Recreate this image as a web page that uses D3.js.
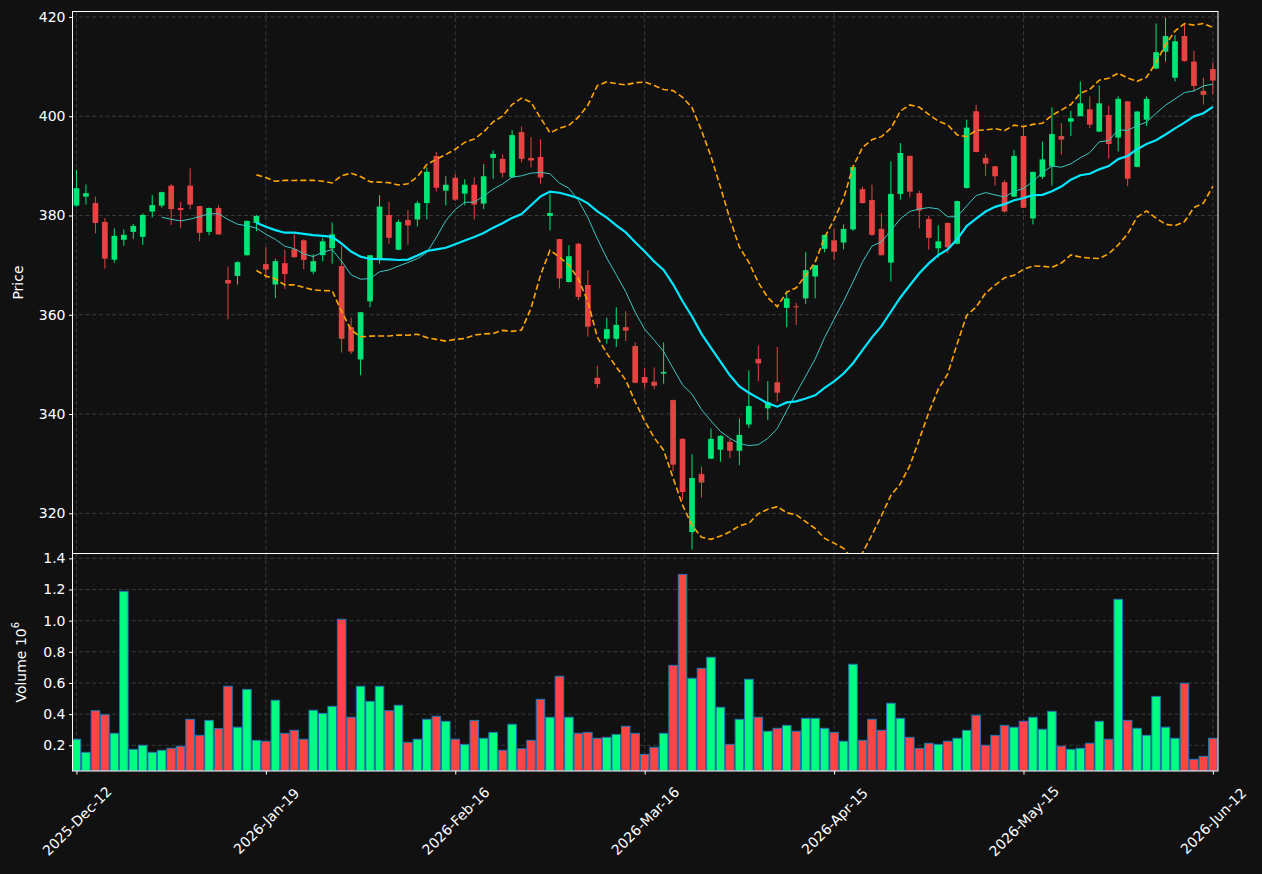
<!DOCTYPE html>
<html>
<head>
<meta charset="utf-8">
<script src="https://cdn.jsdelivr.net/npm/d3@7"></script>
<style>
  html, body { margin: 0; padding: 0; background: #111111; }
  svg { display: block; }
  text { font-family: "DejaVu Sans", sans-serif; }
</style>
</head>
<body>
<svg id="chart" width="1262" height="874"></svg>
<script>
// ---------------- data ----------------
const opens = [382.0,383.8,382.5,378.7,371.1,375.1,376.7,375.7,380.8,382.0,
  386.0,381.5,386.0,381.9,376.7,381.5,367.0,367.8,372.0,378.5,
  370.2,366.1,370.4,373.2,375.0,368.7,372.0,373.4,369.8,357.5,
  351.0,362.7,371.1,380.1,373.1,379.1,379.2,382.5,392.0,385.0,
  387.6,384.4,386.2,382.4,391.6,391.4,387.7,396.8,391.6,391.8,
  379.9,375.25,366.6,374.3,366.0,347.3,355.15,355.15,357.5,353.7,
  347.45,346.5,348.15,342.8,335.0,316.2,327.9,331.0,332.8,334.4,
  332.6,337.9,351.1,341.15,346.4,361.4,361.7,363.3,367.7,373.3,
  375.0,374.55,377.2,385.3,383.1,377.3,370.5,384.35,392.0,384.5,
  379.3,373.4,378.5,374.3,385.55,401.0,391.6,389.9,386.7,383.8,
  396.0,379.4,387.8,389.9,396.0,398.9,400.0,401.4,396.9,400.25,
  395.7,403.0,389.8,399.3,409.6,413.0,407.75,416.15,411.0,405.1,
  409.5];
const highs = [389.2,386.25,383.8,379.5,377.4,377.2,378.3,380.4,384.1,384.8,
  386.3,382.75,389.5,381.9,381.6,382.05,369.7,370.8,379.0,380.1,
  373.6,371.3,373.1,376.2,375.2,372.2,375.5,378.6,373.8,359.4,
  360.5,372.0,384.1,382.75,379.2,381.1,382.96,389.7,392.8,387.9,
  388.35,387.3,387.7,390.4,393.1,392.3,397.2,397.9,395.8,395.35,
  384.4,375.3,374.0,374.5,369.0,349.7,359.4,361.5,360.7,354.45,
  349.3,349.4,354.45,342.9,335.1,331.9,329.45,337.1,335.7,335.1,
  339.1,348.8,353.8,346.6,353.5,364.7,362.4,372.6,370.0,376.1,
  377.4,378.2,389.8,385.8,386.2,380.4,390.9,394.6,392.1,385.0,
  380.0,378.0,378.6,383.0,399.3,402.3,392.4,389.95,387.1,393.2,
  397.9,388.8,394.9,401.8,398.6,401.1,407.0,404.0,406.2,402.1,
  404.0,403.0,401.0,404.0,418.7,419.9,416.35,418.6,413.2,407.75,
  410.9];
const lows = [381.8,382.2,376.4,369.3,370.5,373.9,375.3,374.1,379.6,381.6,
  378.1,377.4,381.3,374.8,376.0,376.1,359.1,366.1,371.9,376.8,
  367.3,363.4,365.2,371.5,369.2,368.2,370.8,370.3,352.4,352.1,
  347.8,361.5,370.3,374.3,373.0,374.1,377.8,379.2,384.85,382.05,
  382.9,382.05,379.2,381.3,387.4,387.65,387.6,390.7,389.7,386.4,
  377.0,365.3,366.5,362.9,355.6,345.2,354.2,353.5,354.7,346.2,
  345.2,345.0,346.1,328.5,322.7,312.7,323.2,330.9,330.4,331.1,
  329.7,337.2,346.6,338.8,342.5,357.5,357.9,362.2,363.3,372.6,
  371.0,373.2,376.9,382.4,375.9,371.95,366.7,383.2,383.65,377.4,
  373.1,371.5,372.4,374.2,385.4,392.7,387.9,386.0,380.6,383.7,
  381.5,378.2,387.4,386.0,392.3,396.05,400.0,397.6,396.8,391.5,
  392.9,385.9,389.7,398.0,409.5,411.0,407.0,411.0,404.95,402.35,
  404.4];
const closes = [385.5,384.5,378.5,371.3,375.9,376.1,377.9,380.1,382.1,384.7,
  381.3,381.1,382.2,376.5,381.5,376.2,366.3,370.6,378.9,379.9,
  369.1,370.8,368.2,371.6,371.05,370.8,374.8,376.2,355.15,352.6,
  360.5,372.0,381.8,375.5,378.7,378.0,382.5,388.8,385.6,386.2,
  383.2,386.2,382.2,387.9,392.4,388.6,396.2,391.4,391.1,387.65,
  380.5,367.3,371.8,363.6,357.6,346.05,357.1,357.96,356.8,346.3,
  346.3,345.7,348.5,329.8,324.3,327.1,326.2,335.0,335.6,332.6,
  335.8,341.6,350.2,342.4,344.3,363.3,361.5,369.0,370.0,376.1,
  372.7,377.3,389.75,382.5,376.1,372.0,384.35,392.6,384.8,381.0,
  375.5,374.8,373.6,382.9,397.7,392.8,390.45,387.9,380.8,392.0,
  381.55,388.8,391.3,396.4,395.3,399.6,402.6,398.3,402.6,394.4,
  403.5,387.4,400.95,403.5,412.9,416.15,415.1,411.1,406.1,404.3,
  407.2];
// volume in units of 10^6
const volumes = [0.239,0.155,0.422,0.396,0.277,1.188,0.174,0.200,0.155,0.168,
  0.181,0.194,0.367,0.264,0.360,0.307,0.579,0.316,0.559,0.232,
  0.226,0.489,0.277,0.296,0.239,0.425,0.405,0.450,1.009,0.380,
  0.579,0.482,0.579,0.422,0.457,0.219,0.239,0.367,0.386,0.354,
  0.239,0.206,0.360,0.245,0.283,0.168,0.335,0.178,0.232,0.495,
  0.380,0.643,0.380,0.277,0.283,0.245,0.251,0.270,0.322,0.277,
  0.142,0.187,0.277,0.713,1.297,0.630,0.694,0.765,0.444,0.206,
  0.367,0.624,0.380,0.290,0.309,0.328,0.290,0.373,0.373,0.309,
  0.283,0.226,0.720,0.232,0.367,0.296,0.470,0.373,0.251,0.181,
  0.213,0.206,0.226,0.245,0.296,0.393,0.200,0.264,0.328,0.316,
  0.354,0.380,0.303,0.418,0.194,0.174,0.181,0.213,0.354,0.239,
  1.137,0.360,0.309,0.264,0.514,0.316,0.245,0.598,0.110,0.129,
  0.245];
const tickIndex  = [0, 20, 40, 60, 80, 100, 120];
const tickLabels = ["2025-Dec-12","2026-Jan-19","2026-Feb-16","2026-Mar-16","2026-Apr-15","2026-May-15","2026-Jun-12"];
const priceTicks  = [320, 340, 360, 380, 400, 420];
const volumeTicks = [0.2, 0.4, 0.6, 0.8, 1.0, 1.2, 1.4];
const mavShort = 10, mavLong = 20, bandStd = 2;

// ---------------- derived series (rolling statistics of closes) ----------------
function rolling(n, fn) {
  return closes.map((_, i) => i < n - 1 ? null : fn(closes.slice(i - n + 1, i + 1)));
}
const ma10 = rolling(mavShort, w => d3.mean(w));
const ma20 = rolling(mavLong, w => d3.mean(w));
const sd20 = rolling(mavLong, w => { const m = d3.mean(w); return Math.sqrt(d3.mean(w, v => (v - m) * (v - m))); });
const upper = ma20.map((m, i) => m == null ? null : m + bandStd * sd20[i]);
const lower = ma20.map((m, i) => m == null ? null : m - bandStd * sd20[i]);

// ---------------- layout ----------------
const L = 72.5, R = 1218;
const pTop = 11.5, pBot = 553.5, vTop = 553.5, vBot = 771;
const svg = d3.select("#chart");
const bg = "#111111", gridC = "#3a3a3a", fg = "#ffffff";
const upC = "#00e676", downC = "#e84343", upV = "#00ff80", downV = "#ff4444";

svg.append("rect").attr("width", 1262).attr("height", 874).attr("fill", bg);

const n = closes.length;
const x = d3.scaleLinear().domain([-0.42, n - 1 + 0.54]).range([L, R]);
const yP = d3.scaleLinear().domain([311.9, 421.1]).range([pBot, pTop]);
const yV = d3.scaleLinear().domain([0.035, 1.431]).range([vBot, vTop]);
const step = x(1) - x(0);

// clip paths
const defs = svg.append("defs");
defs.append("clipPath").attr("id", "clipP").append("rect").attr("x", L).attr("y", pTop).attr("width", R - L).attr("height", pBot - pTop);
defs.append("clipPath").attr("id", "clipV").append("rect").attr("x", L).attr("y", vTop).attr("width", R - L).attr("height", vBot - vTop);

// grid
const grid = svg.append("g").attr("stroke", gridC).attr("stroke-width", 1).attr("stroke-dasharray", "4,2.6").attr("fill", "none");
tickIndex.forEach(t => {
  grid.append("line").attr("x1", x(t)).attr("x2", x(t)).attr("y1", pTop).attr("y2", pBot);
  grid.append("line").attr("x1", x(t)).attr("x2", x(t)).attr("y1", vTop).attr("y2", vBot);
});
priceTicks.forEach(t => grid.append("line").attr("x1", L).attr("x2", R).attr("y1", yP(t)).attr("y2", yP(t)));
volumeTicks.forEach(t => grid.append("line").attr("x1", L).attr("x2", R).attr("y1", yV(t)).attr("y2", yV(t)));

// ---------------- candles ----------------
const gc = svg.append("g").attr("clip-path", "url(#clipP)");
const bodyW = step * 0.6;
d3.range(n).forEach(i => {
  const up = closes[i] >= opens[i];
  const col = up ? upC : downC;
  gc.append("line").attr("x1", x(i)).attr("x2", x(i))
    .attr("y1", yP(highs[i])).attr("y2", yP(lows[i]))
    .attr("stroke", col).attr("stroke-width", 1);
  const top = yP(Math.max(opens[i], closes[i]));
  const bot = yP(Math.min(opens[i], closes[i]));
  gc.append("rect").attr("x", x(i) - bodyW / 2).attr("y", top)
    .attr("width", bodyW).attr("height", Math.max(1, bot - top))
    .attr("fill", col);
});

// moving averages and bands
function pathOf(arr) {
  return d3.line().defined(d => d.v != null).x(d => x(d.i)).y(d => yP(d.v))(arr.map((v, i) => ({ i, v })));
}
gc.append("path").attr("d", pathOf(upper)).attr("fill", "none").attr("stroke", "#ffa500").attr("stroke-width", 1.6).attr("stroke-dasharray", "6,3");
gc.append("path").attr("d", pathOf(lower)).attr("fill", "none").attr("stroke", "#ffa500").attr("stroke-width", 1.6).attr("stroke-dasharray", "6,3");
gc.append("path").attr("d", pathOf(ma10)).attr("fill", "none").attr("stroke", "#3ec6c0").attr("stroke-width", 1);
gc.append("path").attr("d", pathOf(ma20)).attr("fill", "none").attr("stroke", "#00e8ff").attr("stroke-width", 2.2);

// ---------------- volume ----------------
const gv = svg.append("g").attr("clip-path", "url(#clipV)");
const volW = step * 0.9;
d3.range(n).forEach(i => {
  const up = closes[i] >= opens[i];
  gv.append("rect").attr("x", x(i) - volW / 2).attr("y", yV(volumes[i]))
    .attr("width", volW).attr("height", vBot - yV(volumes[i]))
    .attr("fill", up ? upV : downV).attr("stroke", "#1f77b4").attr("stroke-width", 1);
});

// ---------------- axes ----------------
const axP = svg.append("g").attr("transform", `translate(${L},0)`)
  .call(d3.axisLeft(yP).tickValues(priceTicks).tickSize(3.5).tickPadding(3.5).tickFormat(d3.format("d")));
const axV = svg.append("g").attr("transform", `translate(${L},0)`)
  .call(d3.axisLeft(yV).tickValues(volumeTicks).tickSize(3.5).tickPadding(3.5).tickFormat(d3.format(".1f")));
const axX = svg.append("g").attr("transform", `translate(0,${vBot})`)
  .call(d3.axisBottom(x).tickValues(tickIndex).tickSize(3.5).tickFormat((d, k) => tickLabels[k]));
[axP, axV, axX].forEach(a => {
  a.select(".domain").remove();
  a.selectAll("line").attr("stroke", fg).attr("stroke-width", 1);
  a.selectAll("text").attr("fill", fg).attr("font-size", 14).attr("font-family", "DejaVu Sans");
});
axX.selectAll("text")
  .attr("text-anchor", "middle").attr("dy", null).attr("y", null)
  .attr("transform", "translate(0,50) rotate(-45)")
  .attr("dominant-baseline", "central");

// frames
svg.append("rect").attr("x", L).attr("y", pTop).attr("width", R - L).attr("height", pBot - pTop)
  .attr("fill", "none").attr("stroke", fg).attr("stroke-width", 1);
svg.append("rect").attr("x", L).attr("y", vTop).attr("width", R - L).attr("height", vBot - vTop)
  .attr("fill", "none").attr("stroke", fg).attr("stroke-width", 1);

// axis labels
svg.append("text").attr("transform", `translate(18,${(pTop + pBot) / 2}) rotate(-90)`)
  .attr("text-anchor", "middle").attr("dominant-baseline", "central").attr("fill", fg).attr("font-size", 14).text("Price");
const vl = svg.append("text").attr("transform", `translate(21,${(vTop + vBot) / 2}) rotate(-90)`)
  .attr("text-anchor", "middle").attr("dominant-baseline", "central").attr("fill", fg).attr("font-size", 14);
vl.append("tspan").text("Volume  10");
vl.append("tspan").attr("font-size", 10).attr("dy", -6).text("6");
</script>
</body>
</html>
